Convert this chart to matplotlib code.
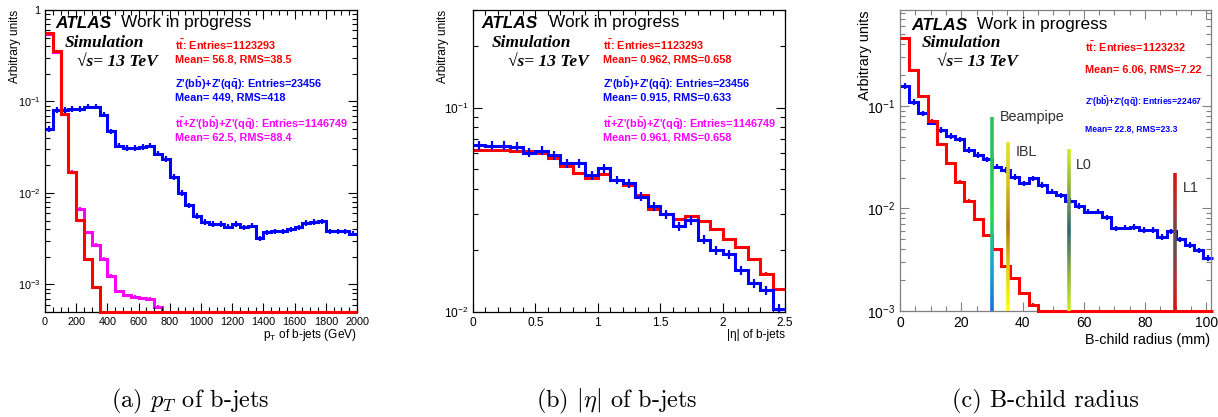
import numpy as np
import matplotlib
matplotlib.use("Agg")
import matplotlib.pyplot as plt
from matplotlib.collections import LineCollection
from matplotlib.colors import LinearSegmentedColormap
from matplotlib.ticker import MultipleLocator, FuncFormatter, LogLocator

plt.rcParams['font.family'] = ['Liberation Sans', 'DejaVu Sans']
plt.rcParams['mathtext.fontset'] = 'custom'
plt.rcParams['mathtext.rm'] = 'Liberation Sans'
plt.rcParams['mathtext.it'] = 'Liberation Sans:italic'
plt.rcParams['mathtext.bf'] = 'Liberation Sans:bold'

W, H = 1218, 417

# (a) pT of b-jets, 50 GeV bins 0-2000
pt_edges = np.arange(0, 2001, 50)
pt_ttbar = [0.56, 0.357, 0.073, 0.017, 0.0051, 0.0019, 0.00093] + [0] * 33
pt_zprime = [0.05, 0.081, 0.081, 0.083, 0.083, 0.088, 0.088, 0.072, 0.047, 0.033,
             0.031, 0.031, 0.032, 0.033, 0.027, 0.0235, 0.015, 0.01, 0.0073, 0.0056,
             0.0048, 0.0046, 0.0046, 0.0043, 0.0046, 0.0042, 0.0044, 0.0032, 0.0037, 0.0038,
             0.0038, 0.0040, 0.0042, 0.0047, 0.0048, 0.0049, 0.0038, 0.0038, 0.0038, 0.0036]
pt_comb = [0.55, 0.35, 0.073, 0.017, 0.0067, 0.0037, 0.0027, 0.0019, 0.00125, 0.00084,
           0.00076, 0.00073, 0.00071, 0.0007, 0.00057] + [0] * 25

# (b) |eta| of b-jets, 0.1 bins 0-2.5
eta_edges = np.linspace(0, 2.5, 26)
eta_ttbar = [0.062, 0.062, 0.062, 0.061, 0.061, 0.0597, 0.0565, 0.0518, 0.0476, 0.045,
             0.0473, 0.0443, 0.0418, 0.0373, 0.0318, 0.0303, 0.0284, 0.0294, 0.0278, 0.0254,
             0.0227, 0.0207, 0.0181, 0.0154, 0.0129]
eta_zprime = [0.0656, 0.065, 0.065, 0.0644, 0.0602, 0.0616, 0.0586, 0.0533, 0.0533, 0.0468,
              0.0505, 0.0443, 0.0426, 0.0366, 0.033, 0.0301, 0.0263, 0.0282, 0.0226, 0.02,
              0.0192, 0.016, 0.0138, 0.0128, 0.0104]

# (c) B-child radius, 3 mm bins 0-102
r_edges = np.arange(0, 103, 3)
r_ttbar = [0.457, 0.224, 0.125, 0.072, 0.0425, 0.0276, 0.0183, 0.0119, 0.00785, 0.0055,
           0.0040, 0.00275, 0.0021, 0.0015, 0.00115] + [0] * 19
r_zprime = [0.157, 0.110, 0.085, 0.0688, 0.0584, 0.051, 0.0473, 0.0372, 0.0333, 0.0302,
            0.0256, 0.0238, 0.0204, 0.0176, 0.0197, 0.017, 0.0146, 0.0135, 0.0119, 0.0106,
            0.0093, 0.0093, 0.0082, 0.0064, 0.0065, 0.0066, 0.0062, 0.0062, 0.0053, 0.006,
            0.005, 0.0044, 0.0039, 0.0033]

# detector layers: name, radius, line top, label x, label y, colours top -> bottom
layers = [
    ("Beampipe", 29.9, 0.0787, 32.6, 0.078, ['#2ec060', '#2ec060', '#22dd44', '#1aa8d0', '#1a70d8']),
    ("IBL", 35.3, 0.0449, 37.8, 0.0358, ['#e8e020', '#d8c020', '#b07a10', '#e0d010', '#ffff00']),
    ("L0", 55.2, 0.0378, 57.4, 0.0265, ['#ccee22', '#88aa44', '#2e6470', '#88aa44', '#ccee22']),
    ("L1", 89.7, 0.0224, 92.2, 0.0157, ['#dd1111', '#aa3333', '#555555', '#aa3333', '#dd1111']),
]

RED, BLUE, MAG = '#ff0000', '#0000ff', '#ff00ff'


def px(x, y):
    return x / W, 1 - y / H


def draw_hist(ax, edges, vals, color, rel_err, ymin, z):
    vals = np.asarray(vals, dtype=float)
    ax.stairs(np.clip(vals, ymin, None), edges, baseline=None, color=color,
              lw=2.2, zorder=z, clip_on=False)
    cen = 0.5 * (edges[1:] + edges[:-1])
    m = vals > ymin
    ax.errorbar(cen[m], vals[m], yerr=vals[m] * rel_err, fmt='none', ecolor=color,
                elinewidth=1.6, zorder=z)


def style_axes(ax, xmaj, xmin, fs, color='black'):
    ax.set_yscale('log')
    ax.xaxis.set_major_locator(MultipleLocator(xmaj))
    ax.xaxis.set_minor_locator(MultipleLocator(xmin))
    ax.yaxis.set_major_locator(LogLocator(base=10))
    ax.yaxis.set_minor_locator(LogLocator(base=10, subs=np.arange(2, 10)))
    ax.yaxis.set_major_formatter(FuncFormatter(
        lambda v, _: '1' if abs(v - 1) < 1e-9 else r'$10^{%d}$' % round(np.log10(v))))
    ax.yaxis.set_minor_formatter(FuncFormatter(lambda v, _: ''))
    ax.tick_params(which='both', direction='in', top=True, right=True,
                   labelsize=fs, color=color, width=0.8)
    ax.tick_params(which='major', length=6.5)
    ax.tick_params(which='minor', length=3.3)
    for s in ax.spines.values():
        s.set_color(color)
        s.set_linewidth(0.9)


def header(fig, x, y, work_dx, sim_x, rs_x, ysim, yrs):
    fig.text(*px(x, y), "ATLAS", fontsize=12.4, fontweight='bold', style='italic',
             va='center', ha='left')
    fig.text(*px(x + work_dx, y), "Work in progress", fontsize=12.4, va='center', ha='left')
    fig.text(*px(sim_x, ysim), "Simulation", fontsize=12.5, fontweight='bold', style='italic',
             family='Liberation Serif', va='center', ha='left')
    fig.text(*px(rs_x, yrs), "\u221as= 13 TeV", fontsize=12.5, fontweight='bold',
             style='italic', family='Liberation Serif', va='center', ha='left')


fig = plt.figure(figsize=(W / 100, H / 100), dpi=100)

tt = r"$\mathbf{t\bar{t}}$"
zz = r"Z'(b$\mathbf{\bar{b}}$)+Z'(q$\mathbf{\bar{q}}$)"

# ---- panel (a)
ax1 = fig.add_axes([45 / W, 1 - 312 / H, 312 / W, 302 / H])
draw_hist(ax1, pt_edges, pt_comb, MAG, 0.04, 5e-4, 1)
draw_hist(ax1, pt_edges, pt_zprime, BLUE, 0.07, 5e-4, 2)
draw_hist(ax1, pt_edges, pt_ttbar, RED, 0.02, 5e-4, 3)
ax1.set_xlim(0, 2000)
ax1.set_ylim(5e-4, 1)
style_axes(ax1, 200, 50, 7.8)
fig.text(*px(15, 10), "Arbitrary units", rotation=90, fontsize=8.6, ha='center', va='top')
fig.text(*px(357, 335), r"p$_{\mathrm{T}}$ of b-jets (GeV)", fontsize=8.6, ha='right', va='center')
header(fig, 55, 23, 65.7, 65, 77, 43, 62)
sx = 175
fig.text(*px(sx, 45), tt + ": Entries=1123293", color=RED, fontsize=7.8, fontweight='bold', va='center')
fig.text(*px(sx, 59), "Mean= 56.8, RMS=38.5", color=RED, fontsize=7.8, fontweight='bold', va='center')
fig.text(*px(sx, 84), zz + ": Entries=23456", color=BLUE, fontsize=7.8, fontweight='bold', va='center')
fig.text(*px(sx, 97), "Mean= 449, RMS=418", color=BLUE, fontsize=7.8, fontweight='bold', va='center')
fig.text(*px(sx, 124), tt + "+" + zz + ": Entries=1146749", color=MAG, fontsize=7.8, fontweight='bold', va='center')
fig.text(*px(sx, 137), "Mean= 62.5, RMS=88.4", color=MAG, fontsize=7.8, fontweight='bold', va='center')

# ---- panel (b)
ax2 = fig.add_axes([473 / W, 1 - 312 / H, 312 / W, 302 / H])
draw_hist(ax2, eta_edges, eta_ttbar, RED, 0.015, 1e-2, 2)
draw_hist(ax2, eta_edges, eta_zprime, BLUE, 0.05, 1e-2, 3)
ax2.set_xlim(0, 2.5)
ax2.set_ylim(1e-2, 0.3)
style_axes(ax2, 0.5, 0.1, 8.6)
ax2.xaxis.set_major_formatter(FuncFormatter(lambda v, _: '%g' % v))
fig.text(*px(443, 10), "Arbitrary units", rotation=90, fontsize=8.6, ha='center', va='top')
fig.text(*px(785, 335), "|\u03b7| of b-jets", fontsize=8.6, ha='right', va='center')
header(fig, 481.7, 23, 67.6, 491.7, 508.3, 43, 62)
sx = 603
fig.text(*px(sx, 45), tt + ": Entries=1123293", color=RED, fontsize=7.8, fontweight='bold', va='center')
fig.text(*px(sx, 59), "Mean= 0.962, RMS=0.658", color=RED, fontsize=7.8, fontweight='bold', va='center')
fig.text(*px(sx, 84), zz + ": Entries=23456", color=BLUE, fontsize=7.8, fontweight='bold', va='center')
fig.text(*px(sx, 97), "Mean= 0.915, RMS=0.633", color=BLUE, fontsize=7.8, fontweight='bold', va='center')
fig.text(*px(sx, 124), tt + "+" + zz + ": Entries=1146749", color=MAG, fontsize=7.8, fontweight='bold', va='center')
fig.text(*px(sx, 137), "Mean= 0.961, RMS=0.658", color=MAG, fontsize=7.8, fontweight='bold', va='center')

# ---- panel (c)
ax3 = fig.add_axes([900 / W, 1 - 311 / H, 311 / W, 301 / H])
draw_hist(ax3, r_edges, r_zprime, BLUE, 0.06, 1e-3, 2)
draw_hist(ax3, r_edges, r_ttbar, RED, 0.03, 1e-3, 3)
ax3.set_xlim(0, 101.5)
ax3.set_ylim(1e-3, 0.864)
style_axes(ax3, 20, 5, 10, color='#808080')
ax3.tick_params(labelcolor='black')
for name, r, top, lx, ly, cols in layers:
    ys = np.geomspace(1e-3, top, 80)
    segs = [[(r, ys[i]), (r, ys[i + 1])] for i in range(len(ys) - 1)]
    cmap = LinearSegmentedColormap.from_list(name, cols[::-1])
    lc = LineCollection(segs, colors=cmap(np.linspace(0, 1, len(segs))), linewidths=2.6, zorder=5)
    ax3.add_collection(lc)
    ax3.text(lx, ly, name, fontsize=10.4, color='#333333', va='center', ha='left')
fig.text(*px(865, 10), "Arbitrary units", rotation=90, fontsize=10.4, ha='center', va='top')
fig.text(*px(1210, 340), "B-child radius (mm)", fontsize=10.4, ha='right', va='center')
header(fig, 911.7, 25, 65, 921.7, 937.3, 43, 62)
sx = 1085
fig.text(*px(sx, 47), tt + ": Entries=1123232", color=RED, fontsize=7.8, fontweight='bold', va='center')
fig.text(*px(sx, 70), "Mean= 6.06, RMS=7.22", color=RED, fontsize=7.8, fontweight='bold', va='center')
fig.text(*px(sx, 102), zz + ": Entries=22467", color=BLUE, fontsize=6.2, fontweight='bold', va='center')
fig.text(*px(sx, 129), "Mean= 22.8, RMS=23.3", color=BLUE, fontsize=6.2, fontweight='bold', va='center')

# ---- captions
for cx, cap in [(190, r"(a) $p_T$ of b-jets"), (617, r"(b) $|\eta|$ of b-jets"),
                (1045, "(c) B-child radius")]:
    fig.text(*px(cx, 401), cap, fontsize=17.5, family='cmr10', math_fontfamily='cm',
             ha='center', va='center')

fig.savefig("out.png", dpi=100)
